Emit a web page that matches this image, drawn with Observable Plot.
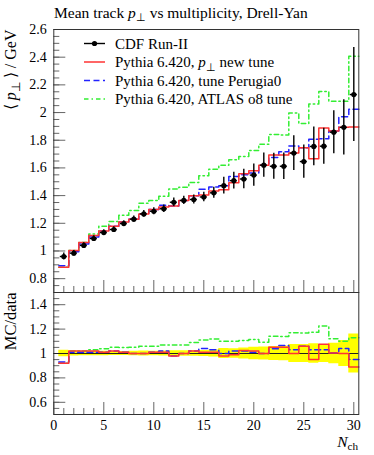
<!DOCTYPE html>
<html><head><meta charset="utf-8">
<script src="https://cdn.jsdelivr.net/npm/d3@7"></script>
<script src="https://cdn.jsdelivr.net/npm/@observablehq/plot@0.6"></script>
<style>
body{margin:0;background:#fff;}
#wrap{position:relative;width:374px;height:455px;overflow:hidden;font-family:"Liberation Serif",serif;}
#wrap svg{position:absolute;left:0;overflow:visible;background:transparent;max-width:none;}
#wrap svg text{font-family:"Liberation Serif",serif !important;}
</style></head><body><div id="wrap"></div>
<script>
// ---- data ----
const nch = [1,2,3,4,5,6,7,8,9,10,11,12,13,14,15,16,17,18,19,20,21,22,23,24,25,26,27,28,29,30];
const cdfMean = [0.960,0.984,1.040,1.090,1.133,1.155,1.198,1.230,1.268,1.287,1.305,1.352,1.365,1.372,1.390,1.420,1.472,1.508,1.520,1.548,1.620,1.612,1.612,1.707,1.646,1.755,1.757,1.858,1.893,2.130];
const cdfErr = [0.025,0.020,0.020,0.020,0.020,0.020,0.020,0.022,0.025,0.025,0.027,0.030,0.030,0.032,0.035,0.040,0.060,0.060,0.070,0.080,0.087,0.094,0.096,0.125,0.120,0.140,0.130,0.155,0.200,0.340];
const pythiaPtNew = [0.883,1.004,1.061,1.112,1.144,1.178,1.210,1.230,1.268,1.300,1.318,1.325,1.365,1.399,1.404,1.434,1.443,1.493,1.558,1.579,1.620,1.693,1.693,1.707,1.745,1.667,1.889,1.867,1.893,1.896];
const pythiaPerugia0 = [0.893,0.994,1.050,1.101,1.144,1.178,1.210,1.230,1.268,1.300,1.331,1.325,1.365,1.399,1.446,1.463,1.472,1.538,1.550,1.563,1.620,1.676,1.717,1.758,1.745,1.808,1.810,1.867,1.969,2.024];
const pythiaAtlasO8 = [0.883,1.004,1.061,1.123,1.178,1.213,1.258,1.292,1.344,1.364,1.396,1.447,1.461,1.495,1.543,1.590,1.619,1.659,1.683,1.726,1.771,1.841,1.838,1.997,1.921,2.062,2.152,2.081,2.082,2.407];
const xTicksMajor = [0,5,10,15,20,25,30];
const xTicksMinor = [1,2,3,4,6,7,8,9,11,12,13,14,16,17,18,19,21,22,23,24,26,27,28,29];
const yMainMajor = [0.8,1,1.2,1.4,1.6,1.8,2,2.2,2.4,2.6];
const yRatioMajor = [0.6,0.8,1,1.2,1.4];
const seriesNames = ["CDF Run-II","Pythia 6.420, p⊥ new tune","Pythia 6.420, tune Perugia0","Pythia 6.420, ATLAS o8 tune"];

// ---- styles ----
const FONT = "Liberation Serif, serif";
const tickColor = "#666", frameColor = "#333";
const mcStyles = [
  {vals: pythiaAtlasO8, stroke: "#33ee33", dash: "4.5,3,1.5,3"},
  {vals: pythiaPerugia0, stroke: "#2222ff", dash: "6,3.5"},
  {vals: pythiaPtNew, stroke: "#ff3333", dash: null}
];
const fmt = d => String(+d.toFixed(2));

function histRows(vals) {
  const rows = vals.map((v, i) => ({x: nch[i] - 0.5, y: v}));
  rows.push({x: nch[nch.length - 1] + 0.5, y: vals[vals.length - 1]});
  return rows;
}
const cdfRows = nch.map((n, i) => ({x: n, y: cdfMean[i], lo: cdfMean[i] - cdfErr[i], hi: cdfMean[i] + cdfErr[i], xl: n - 0.35, xr: n + 0.35}));
const bandRows = histRows(cdfMean).map((r, i) => {
  const k = Math.min(i, nch.length - 1);
  return {x: r.x, lo: 1 - cdfErr[k] / cdfMean[k], hi: 1 + cdfErr[k] / cdfMean[k]};
});

function minorTicks(lo, hi, step) {
  const out = [];
  for (let v = lo; v <= hi + 1e-9; v += step) out.push(+v.toFixed(3));
  return out;
}

function tickMarks(yLo, yMinorList, yMajorList, yPerPx) {
  return [
    Plot.ruleY(yMinorList, {y: d => d, x1: d => 0, x2: d => 0.6, stroke: tickColor, strokeWidth: 1}),
    Plot.ruleY(yMajorList, {y: d => d, x1: d => 0, x2: d => 1.2, stroke: tickColor, strokeWidth: 1}),
    Plot.ruleX(xTicksMinor, {x: d => d, y1: d => yLo, y2: d => yLo + 6 * yPerPx, stroke: tickColor, strokeWidth: 1}),
    Plot.ruleX(xTicksMajor, {x: d => d, y1: d => yLo, y2: d => yLo + 12 * yPerPx, stroke: tickColor, strokeWidth: 1})
  ];
}

const wrap = document.getElementById("wrap");
const axisText = {tickSize: 0, tickPadding: 7, label: null, fontSize: 14, fontFamily: FONT};

// ---- main panel ----
const mainH = 293, mainTop = 29, mainBottom = 1;
const mainYDom = [0.7, 2.6];
const mainPerPx = (mainYDom[1] - mainYDom[0]) / (mainH - mainTop - mainBottom);
const main = Plot.plot({
  width: 374, height: mainH,
  marginLeft: 53.3, marginRight: 15.7, marginTop: mainTop, marginBottom: mainBottom,
  style: {fontFamily: FONT, fontSize: "14px", background: "transparent", overflow: "visible"},
  x: {domain: [0, 30.5], axis: null},
  y: {domain: mainYDom},
  marks: [
    Plot.axisY(yMainMajor, {...axisText, tickFormat: fmt}),
    ...tickMarks(mainYDom[0], minorTicks(0.7, 2.6, 0.05), yMainMajor, mainPerPx),
    ...mcStyles.map(s => Plot.line(histRows(s.vals), {x: "x", y: "y", curve: "step-after", stroke: s.stroke, strokeWidth: 1.5, strokeDasharray: s.dash})),
    Plot.ruleX(cdfRows, {x: "x", y1: "lo", y2: "hi", stroke: "black", strokeWidth: 1.4}),
    Plot.ruleY(cdfRows, {y: "y", x1: "xl", x2: "xr", stroke: "black", strokeWidth: 1.4}),
    Plot.dot(cdfRows, {x: "x", y: "y", r: 2.6, fill: "black", stroke: "none"}),
    Plot.frame({stroke: frameColor, strokeWidth: 1})
  ]
});
main.style.top = "0px";
wrap.appendChild(main);

// ---- ratio panel ----
const rTopPos = 291, rH = 164, rTop = 1, rBottom = 41;
const ratioDom = [0.5, 1.5];
const ratioPerPx = (ratioDom[1] - ratioDom[0]) / (rH - rTop - rBottom);
const ratio = Plot.plot({
  width: 374, height: rH,
  marginLeft: 53.3, marginRight: 15.7, marginTop: rTop, marginBottom: rBottom,
  style: {fontFamily: FONT, fontSize: "14px", background: "transparent", overflow: "visible"},
  x: {domain: [0, 30.5]},
  y: {domain: ratioDom},
  marks: [
    Plot.areaY(bandRows, {x: "x", y1: "lo", y2: "hi", curve: "step-after", fill: "#ffff00", fillOpacity: 1}),
    Plot.axisY(yRatioMajor, {...axisText, tickFormat: fmt}),
    Plot.axisX(xTicksMajor, {...axisText, tickPadding: 6, tickFormat: d => String(d)}),
    ...tickMarks(ratioDom[0], minorTicks(0.5, 1.5, 0.05), yRatioMajor, ratioPerPx),
    Plot.ruleY([1], {stroke: "#222", strokeWidth: 1}),
    ...mcStyles.map(s => Plot.line(histRows(s.vals.map((v, i) => v / cdfMean[i])), {x: "x", y: "y", curve: "step-after", stroke: s.stroke, strokeWidth: 1.5, strokeDasharray: s.dash})),
    Plot.frame({stroke: frameColor, strokeWidth: 1})
  ]
});
ratio.style.top = rTopPos + "px";
wrap.appendChild(ratio);

// ---- overlay: title, legend, axis titles ----
const ov = d3.select(wrap).append("svg")
  .attr("width", 374).attr("height", 455)
  .style("top", "0px").style("font-family", FONT).style("pointer-events", "none");

function richText(g, parts, size) {
  parts.forEach(p => {
    const t = g.append("tspan").text(p.t);
    if (p.i) t.attr("font-style", "italic");
    if (p.sub) { t.attr("font-size", size * 0.72).attr("dy", size * 0.25); }
    if (p.back) t.attr("dy", -size * 0.25);
  });
}

// title
richText(ov.append("text").attr("x", 54).attr("y", 17.5).attr("font-size", 15.5),
  [{t: "Mean track "}, {t: "p", i: true}, {t: "⊥", sub: true}, {t: " vs multiplicity, Drell-Yan", back: true}], 15.5);

// legend
const legY = [43.5, 62, 80.5, 99];
const lx0 = 84, lx1 = 105, tx = 115;
const LS = 15;
const leg = ov.append("g").attr("font-size", LS);
// CDF
leg.append("line").attr("x1", lx0).attr("x2", lx1).attr("y1", legY[0]).attr("y2", legY[0]).attr("stroke", "black").attr("stroke-width", 1.4);
leg.append("circle").attr("cx", (lx0 + lx1) / 2).attr("cy", legY[0]).attr("r", 2.6).attr("fill", "black");
leg.append("text").attr("x", tx).attr("y", legY[0] + 5).text(seriesNames[0]);
// MC
const legMC = [mcStyles[2], mcStyles[1], mcStyles[0]];
legMC.forEach((s, k) => {
  const y = legY[k + 1];
  leg.append("line").attr("x1", lx0).attr("x2", lx1).attr("y1", y).attr("y2", y)
    .attr("stroke", s.stroke).attr("stroke-width", 1.5).attr("stroke-dasharray", s.dash);
  const t = leg.append("text").attr("x", tx).attr("y", y + 5);
  if (k === 0) {
    richText(t, [{t: "Pythia 6.420, "}, {t: "p", i: true}, {t: "⊥", sub: true}, {t: " new tune", back: true}], LS);
  } else {
    t.text(seriesNames[k + 1]);
  }
});

// y axis title (main)
const yl = ov.append("text").attr("transform", "translate(16,29.5) rotate(-90)").attr("text-anchor", "end").attr("font-size", 16);
richText(yl, [{t: "⟨ "}, {t: "p", i: true}, {t: "⊥", sub: true}, {t: " ⟩ / GeV", back: true}], 16);
// ratio y title
ov.append("text").attr("transform", "translate(16,292.5) rotate(-90)").attr("text-anchor", "end").attr("font-size", 16.5).text("MC/data");
// x title
const xl = ov.append("text").attr("x", 358).attr("y", 446.5).attr("text-anchor", "end").attr("font-size", 15.5);
richText(xl, [{t: "N", i: true}, {t: "ch", sub: true}], 15.5);
</script></body></html>
